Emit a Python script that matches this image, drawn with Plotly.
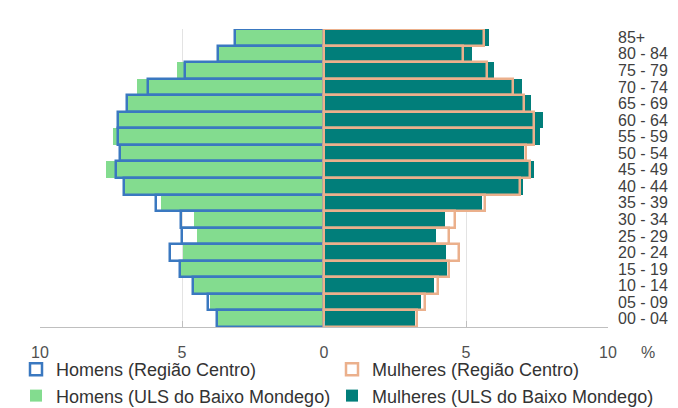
import plotly.graph_objects as go

ages = ['00 - 04', '05 - 09', '10 - 14', '15 - 19', '20 - 24', '25 - 29', '30 - 34',
        '35 - 39', '40 - 44', '45 - 49', '50 - 54', '55 - 59', '60 - 64', '65 - 69',
        '70 - 74', '75 - 79', '80 - 84', '85+']

homens_centro = [3.76, 4.07, 4.61, 5.08, 5.43, 4.99, 5.03, 5.90, 7.05, 7.34,
                 7.20, 7.27, 7.27, 6.92, 6.21, 4.89, 3.73, 3.15]
homens_uls = [3.72, 4.03, 4.58, 5.03, 4.96, 4.46, 4.58, 5.73, 7.02, 7.69,
              7.17, 7.42, 7.25, 6.90, 6.57, 5.16, 3.70, 3.12]
mulheres_centro = [3.28, 3.54, 4.01, 4.40, 4.77, 4.40, 4.61, 5.66, 6.89, 7.25,
                   7.10, 7.41, 7.39, 7.04, 6.65, 5.75, 4.89, 5.62]
mulheres_uls = [3.22, 3.43, 3.87, 4.34, 4.31, 3.95, 4.25, 5.57, 7.01, 7.41,
                7.05, 7.60, 7.72, 7.30, 6.98, 6.00, 5.22, 5.80]

tick_vals = [-10, -5, 0, 5, 10]
tick_text = ['10', '5', '0', '5', '10']

GREEN = '#83DC8F'
TEAL = '#017E7A'
BLUE = '#3A78C0'
ORANGE = '#EBB08C'
FONT = 'Liberation Sans, Arial, sans-serif'

fig = go.Figure()
fig.add_trace(go.Bar(y=ages, x=[-v for v in homens_uls], orientation='h',
                     name='Homens (ULS do Baixo Mondego)', legend='legend', legendrank=3,
                     marker=dict(color=GREEN, line=dict(width=0))))
fig.add_trace(go.Bar(y=ages, x=mulheres_uls, orientation='h',
                     name='Mulheres (ULS do Baixo Mondego)', legend='legend2', legendrank=4,
                     marker=dict(color=TEAL, line=dict(width=0))))
fig.add_trace(go.Bar(y=ages, x=[-v for v in homens_centro], orientation='h',
                     name='Homens (Região Centro)', legend='legend', legendrank=1,
                     marker=dict(color='rgba(0,0,0,0)', line=dict(color=BLUE, width=2.5))))
fig.add_trace(go.Bar(y=ages, x=mulheres_centro, orientation='h',
                     name='Mulheres (Região Centro)', legend='legend2', legendrank=2,
                     marker=dict(color='rgba(0,0,0,0)', line=dict(color=ORANGE, width=2.5))))

PLOT_L, PLOT_W, PLOT_T, PLOT_H = 40, 568, 29, 298
LEG_TOP = 351
leg_common = dict(orientation='v', xanchor='left', yanchor='top',
                  y=(PLOT_T + PLOT_H - LEG_TOP) / PLOT_H,
                  font=dict(size=18, color='#333333', family=FONT),
                  itemwidth=30, traceorder='normal', tracegroupgap=0,
                  bgcolor='rgba(0,0,0,0)', borderwidth=0)

fig.update_layout(
    width=678, height=408,
    margin=dict(l=PLOT_L, r=678 - PLOT_L - PLOT_W, t=PLOT_T, b=408 - PLOT_T - PLOT_H,
                autoexpand=False),
    barmode='overlay', bargap=0,
    paper_bgcolor='white', plot_bgcolor='white',
    font=dict(family=FONT, color='#404040'),
    showlegend=True,
    legend=dict(x=(16 - PLOT_L) / PLOT_W, **leg_common),
    legend2=dict(x=(332 - PLOT_L) / PLOT_W, **leg_common),
    xaxis=dict(range=[-10, 10], tickvals=tick_vals, ticktext=tick_text,
               showgrid=True, gridcolor='#E3E3E3', gridwidth=1, zeroline=False,
               showline=True, linecolor='#BFBFBF', linewidth=1,
               ticks='inside', ticklen=6, tickcolor='#BFBFBF',
               tickfont=dict(size=16, color='#505050'), ticklabelstandoff=11,
               fixedrange=True),
    yaxis=dict(type='category', categoryorder='array', categoryarray=ages,
               tickmode='array', tickvals=ages, ticktext=ages, side='right',
               showgrid=False, zeroline=False, showline=False, ticks='',
               tickfont=dict(size=16, color='#404040'), ticklabelstandoff=9,
               range=[-0.5, 17.5]),
    annotations=[dict(text='%', xref='paper', yref='paper', x=1.071, y=-0.085,
                      xanchor='center', yanchor='middle', showarrow=False,
                      font=dict(size=16, color='#505050'))],
)

fig.write_html('out.html', config={'displayModeBar': False},
               post_script="document.body.style.margin='0px';")
